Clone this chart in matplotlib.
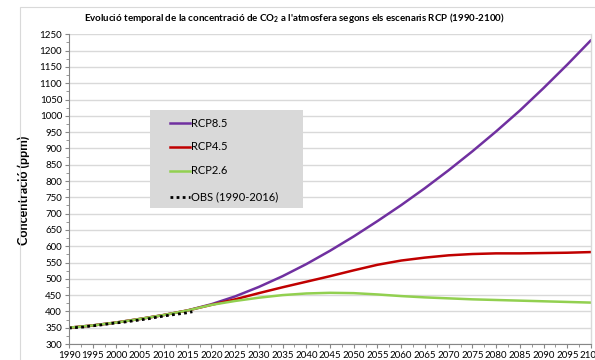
import matplotlib
matplotlib.use("Agg")
import matplotlib.pyplot as plt
from matplotlib.lines import Line2D
from matplotlib.patches import Rectangle
import numpy as np

plt.rcParams['font.family'] = ['Lato', 'DejaVu Sans']
plt.rcParams['mathtext.fontset'] = 'custom'
plt.rcParams['mathtext.rm'] = 'Lato'
plt.rcParams['mathtext.bf'] = 'Lato:bold'

# Scenario projections (ppm), every 5 years
years_rcp = [1990, 1995, 2000, 2005, 2010, 2015, 2020, 2025, 2030, 2035, 2040, 2045,
             2050, 2055, 2060, 2065, 2070, 2075, 2080, 2085, 2090, 2095, 2100]
rcp85 = [350, 357, 366, 377, 389, 403, 422, 446, 475, 508, 545, 586,
         630, 677, 726, 778, 833, 891, 952, 1016, 1085, 1157, 1232]
rcp45 = [350, 357, 366, 377, 389, 403, 420, 437, 456, 474, 491, 508,
         526, 543, 556, 565, 572, 576, 578, 578, 579, 580, 582]
rcp26 = [350, 357, 366, 377, 389, 403, 420, 432, 442, 450, 455, 457,
         456, 452, 447, 443, 440, 437, 435, 433, 431, 429, 427]

# Observed concentration (ppm), yearly 1990-2016
years_obs = list(range(1990, 2017))
obs = [349, 350, 351, 352, 354, 356, 357, 359, 361, 363,
       365, 366, 368, 370, 372, 374, 376, 378, 381, 383,
       386, 388, 390, 392, 394, 396, 399]

y_ticks = list(range(300, 1251, 50))
x_ticks = list(range(1990, 2101, 5))

series = [
    ('RCP8.5', years_rcp, rcp85, '#7030a0'),
    ('RCP4.5', years_rcp, rcp45, '#c00000'),
    ('RCP2.6', years_rcp, rcp26, '#92d050'),
]
obs_label = 'OBS (1990-2016)'
dot_style = (0, (1, 1.2))

W, H = 595, 360
fig = plt.figure(figsize=(W / 100, H / 100), dpi=100)
fig.patch.set_facecolor('white')


def fx(px):
    return px / W


def fy(py):
    return 1 - py / H


# chart-area frame
fig.patches.append(Rectangle((fx(20), -0.1), 1.0, fy(7) + 0.1,
                             transform=fig.transFigure, fill=False,
                             edgecolor='#d9d9d9', linewidth=0.8))

ax = fig.add_axes([fx(69), fy(344), (591 - 69) / W, (344 - 34.3) / H])
ax.set_xlim(1990, 2100)
ax.set_ylim(300, 1250)

ax.set_yticks(y_ticks)
ax.set_yticks(list(range(325, 1250, 50)), minor=True)
ax.set_xticks(x_ticks)
ax.set_xticks(list(np.arange(1992.5, 2100, 5)), minor=True)
ax.tick_params(axis='both', which='major', labelsize=7, length=3,
               color='#868686', width=0.8, pad=2)
ax.tick_params(axis='both', which='minor', length=2.5, color='#868686', width=0.6)
ax.grid(axis='y', which='major', color='#d9d9d9', linewidth=1.0)
ax.set_axisbelow(True)
ax.spines['top'].set_visible(False)
ax.spines['right'].set_color('#d9d9d9')
ax.spines['right'].set_linewidth(1.0)
for s in ['left', 'bottom']:
    ax.spines[s].set_color('#868686')
    ax.spines[s].set_linewidth(0.8)

for name, xs, ys, col in series:
    ax.plot(xs, ys, color=col, lw=1.8, solid_capstyle='round')
ax.plot(years_obs, obs, color='black', lw=2.0, linestyle=dot_style)

ax.set_ylabel('Concentració (ppm)', fontsize=9, fontweight='bold')
ax.yaxis.set_label_coords(fx(30), fy(190), transform=fig.transFigure)

fig.text(fx(294), fy(18),
         r"Evolució temporal de la concentració de CO$_{\mathbf{2}}$ a l'atmosfera segons els escenaris RCP (1990-2100)",
         ha='center', va='center', fontsize=7, fontweight='bold')

# legend panel
fig.patches.append(Rectangle((fx(150), fy(208)), (303 - 150) / W, (208 - 110) / H,
                             transform=fig.transFigure, facecolor='#d9d9d9',
                             edgecolor='none', zorder=5))
rows = [123.3, 147, 171, 196.7]
entries = [(n, c, '-') for n, _, _, c in series] + [(obs_label, 'black', dot_style)]
for (name, col, ls), ry in zip(entries, rows):
    lw = 2.0 if ls is dot_style else 1.8
    fig.add_artist(Line2D([fx(170), fx(190)], [fy(ry), fy(ry)], color=col, lw=lw,
                          linestyle=ls, transform=fig.transFigure, zorder=6))
    fig.text(fx(191), fy(ry), name, ha='left', va='center', fontsize=8, zorder=7)

fig.savefig('out.png', dpi=100)
